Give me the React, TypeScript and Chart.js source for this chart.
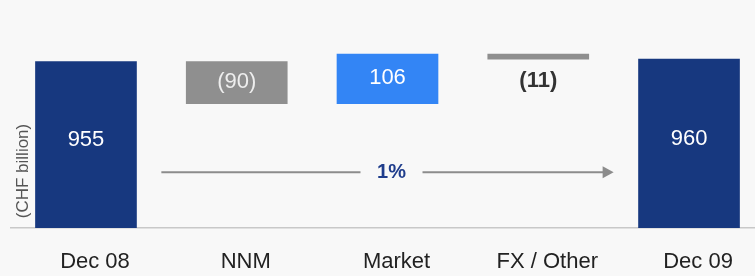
import React, { useEffect, useRef } from "react";
import { Chart, registerables } from "chart.js";

Chart.register(...registerables);

const categories = ["Dec 08", "NNM", "Market", "FX / Other", "Dec 09"];
const values = [955, -90, 106, -11, 960];
const kinds = ["total", "delta", "delta", "delta", "total"];
const axisMin = 600;
const axisMax = 1050;
const changeLabel = "1%";
const changeLevel = 719;
const yTitle = "(CHF billion)";

const NAVY = "#17387f";
const GREY = "#8f8f8f";
const BLUE = "#3385f5";
const FONT = "'Liberation Sans', Arial, sans-serif";

function buildRanges(): [number, number][] {
  let cum = 0;
  return values.map((v, i) => {
    if (kinds[i] === "total") {
      cum = v;
      return [axisMin, v] as [number, number];
    }
    const s = cum;
    cum += v;
    return [s, cum] as [number, number];
  });
}

function fmt(v: number) {
  return v < 0 ? `(${Math.abs(v)})` : `${v}`;
}

const overlayPlugin = {
  id: "overlay",
  afterDatasetsDraw(chart: any) {
    const ctx = chart.ctx;
    const meta = chart.getDatasetMeta(0);
    const xs = chart.scales.x;
    const ys = chart.scales.y;
    ctx.save();
    ctx.textAlign = "center";
    ctx.textBaseline = "middle";
    meta.data.forEach((el: any, i: number) => {
      const top = Math.min(el.y, el.base);
      const bottom = Math.max(el.y, el.base);
      const h = bottom - top;
      if (h < 20) {
        ctx.font = `bold 22px ${FONT}`;
        ctx.fillStyle = "#333333";
        ctx.fillText(fmt(values[i]), el.x, bottom + 22);
      } else {
        ctx.font = `22px ${FONT}`;
        ctx.fillStyle = kinds[i] === "total" ? "#ffffff" : values[i] < 0 ? "#eeeeee" : "#ffffff";
        ctx.fillText(fmt(values[i]), el.x, (top + bottom) / 2 - (kinds[i] === "total" ? 5 : 1));
      }
    });

    // change arrow
    const n = categories.length;
    const xStart = (xs.getPixelForValue(0) + xs.getPixelForValue(1)) / 2;
    const xEnd = (xs.getPixelForValue(n - 2) + xs.getPixelForValue(n - 1)) / 2;
    const tc = xs.getPixelForValue(2) + 4;
    const yA = ys.getPixelForValue(changeLevel);
    ctx.strokeStyle = "#8c8c8c";
    ctx.fillStyle = "#8c8c8c";
    ctx.lineWidth = 2;
    ctx.beginPath();
    ctx.moveTo(xStart, yA);
    ctx.lineTo(tc - 31, yA);
    ctx.moveTo(tc + 31, yA);
    ctx.lineTo(xEnd - 8, yA);
    ctx.stroke();
    ctx.beginPath();
    ctx.moveTo(xEnd, yA);
    ctx.lineTo(xEnd - 11, yA - 6);
    ctx.lineTo(xEnd - 11, yA + 6);
    ctx.closePath();
    ctx.fill();
    ctx.font = `bold 20px ${FONT}`;
    ctx.fillStyle = "#1f3d8c";
    ctx.fillText(changeLabel, tc, yA);

    // y title
    ctx.translate(23, 171);
    ctx.rotate(-Math.PI / 2);
    ctx.font = `17px ${FONT}`;
    ctx.fillStyle = "#555555";
    ctx.fillText(yTitle, 0, 0);
    ctx.restore();
  },
};

export default function App() {
  const ref = useRef<HTMLCanvasElement>(null);
  useEffect(() => {
    if (!ref.current) return;
    const ranges = buildRanges();
    const colors = values.map((v, i) =>
      kinds[i] === "total" ? NAVY : v < 0 ? GREY : BLUE
    );
    const chart = new Chart(ref.current, {
      type: "bar",
      data: {
        labels: categories,
        datasets: [
          {
            data: ranges as any,
            backgroundColor: colors,
            borderWidth: 0,
            barThickness: 101,
          },
        ],
      },
      options: {
        animation: false,
        responsive: true,
        maintainAspectRatio: false,
        layout: { padding: { left: 10.6, right: 5.6, top: 17, bottom: 0 } },
        plugins: { legend: { display: false }, tooltip: { enabled: false } },
        scales: {
          x: {
            grid: { display: false, drawTicks: false },
            border: { display: true, color: "#c8c8c8", width: 1.5 },
            ticks: {
              color: "#222222",
              font: { family: FONT, size: 22 },
              padding: 21,
              labelOffset: 9,
              maxRotation: 0,
            },
            afterFit: (s: any) => {
              s.height = 48;
            },
          },
          y: {
            display: false,
            min: axisMin,
            max: axisMax,
          },
        },
      },
      plugins: [overlayPlugin],
    });
    return () => chart.destroy();
  }, []);
  return (
    <div
      style={{
        position: "absolute",
        left: 0,
        top: 0,
        width: 755,
        height: 276,
        overflow: "hidden",
        background: "#f8f8f8",
      }}
    >
      <div style={{ position: "relative", width: 770, height: 276 }}>
        <canvas ref={ref} />
      </div>
    </div>
  );
}
